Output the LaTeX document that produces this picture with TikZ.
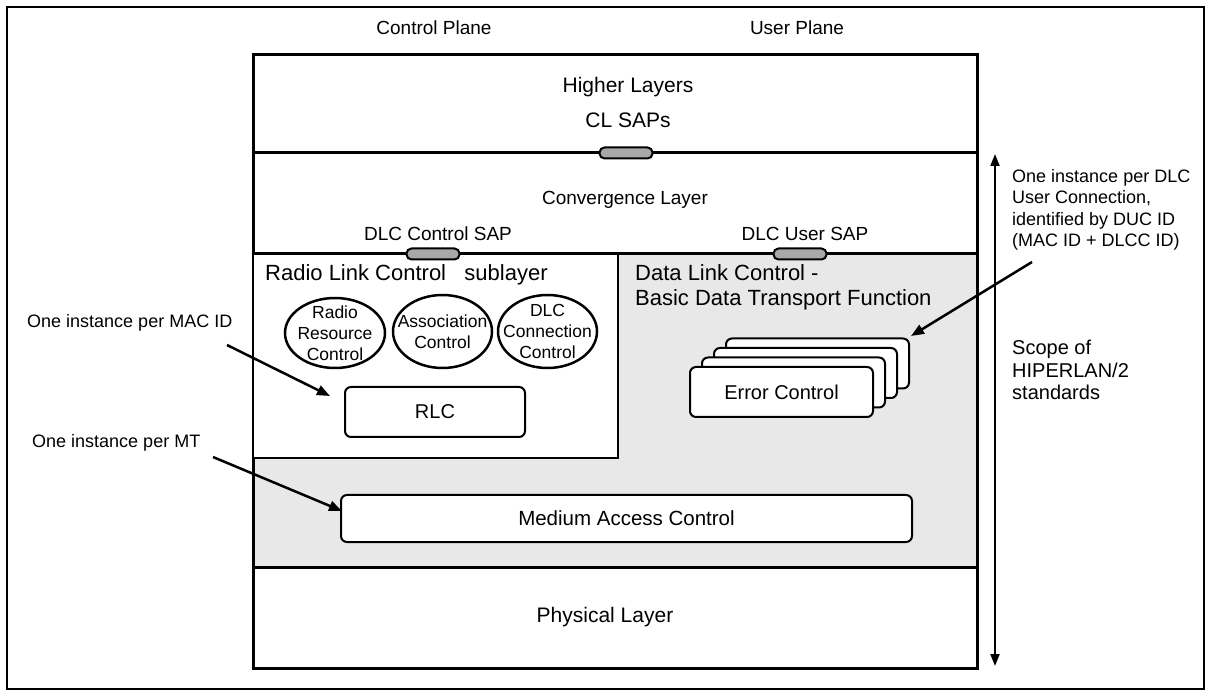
\documentclass[tikz,border=0pt]{standalone}
\usepackage{fontspec}
\setmainfont{Liberation Sans}
\usetikzlibrary{arrows.meta,shapes.geometric}
\definecolor{dlcgray}{HTML}{E8E8E8}
\definecolor{sapgray}{HTML}{A8A8A8}
\begin{document}
\begin{tikzpicture}[x=1pt,y=-1pt,
  layer/.style={draw,line width=3pt,minimum width=724pt,inner sep=0pt},
  rbox/.style={draw,fill=white,line width=2pt,rounded corners=6pt,inner sep=0pt},
  ell/.style={draw,ellipse,line width=2.5pt,inner sep=0pt},
  sap/.style={draw,fill=sapgray,line width=2pt,rounded corners=5pt,minimum width=53pt,minimum height=11pt,inner sep=0pt},
  arr/.style={line width=2.5pt,-{Triangle[length=13pt,width=10pt]}},
  scope/.style={line width=2pt,{Triangle[length=12pt,width=9pt]}-{Triangle[length=12pt,width=9pt]}},
  t19/.style={inner sep=0pt,font=\fontsize{19pt}{22pt}\selectfont},
  t21/.style={inner sep=0pt,font=\fontsize{21pt}{24pt}\selectfont},
  t18/.style={inner sep=0pt,font=\fontsize{18pt}{21.5pt}\selectfont,align=left},
  etext/.style={inner sep=0pt,font=\fontsize{17.5pt}{21pt}\selectfont,align=center},
  title/.style={inner sep=0pt,font=\fontsize{22pt}{25pt}\selectfont,align=left}]
\useasboundingbox (0,0) rectangle (1211,692);
% outer frame
\node[draw,line width=2pt,minimum width=1197pt,minimum height=682pt,inner sep=0pt] (frame) at (605.5,348) {};
% plane labels
\node[t19] (cp) at (434,28) {Control Plane};
\node[t19] (up) at (797,28) {User Plane};
% layers
\node[layer,fill=dlcgray,minimum height=313pt] (dlc) at (615,410.5) {};
\node[draw,fill=white,line width=2.5pt,minimum width=365pt,minimum height=204pt,inner sep=0pt] (rlcsub) at (435.5,356) {};
\node[layer,minimum height=98pt] (hl) at (615,104) {};
\node[layer,minimum height=101pt] (cl) at (615,203.5) {};
\node[layer,minimum height=101pt] (phy) at (615,617.5) {};
% texts in layers
\node[t21] (hlt) at (628,87) {Higher Layers};
\node[t21] (clsaps) at (628,120) {CL SAPs};
\node[t19] (clt) at (625,200) {Convergence Layer};
\node[t19] (dcsapt) at (438,234) {DLC Control SAP};
\node[t19] (dusapt) at (805,234) {DLC User SAP};
\node[t21] (phyt) at (605,617) {Physical Layer};
% SAPs
\node[sap] (clsap) at (626,153) {};
\node[sap] (dcsap) at (433,254) {};
\node[sap] (dusap) at (800,254) {};
% sublayer titles
\node[title,anchor=west] (rlctitle) at (265,275) {Radio Link Control\ \ \ sublayer};
\node[title,anchor=north west] (dlctitle) at (635,264) {Data Link Control -\\Basic Data Transport Function};
% ellipses
\node[ell,minimum width=100pt,minimum height=70pt] (rrc) at (335,333) {};
\node[ell,minimum width=99pt,minimum height=73pt] (ac) at (442.5,331.5) {};
\node[ell,minimum width=99pt,minimum height=73pt] (dcc) at (547.5,331.5) {};
\node[etext] (rrct) at (rrc) {Radio\\Resource\\Control};
\node[etext] (act) at (ac) {Association\\Control};
\node[etext] (dcct) at (dcc) {DLC\\Connection\\Control};
% RLC and MAC
\node[rbox,minimum width=180pt,minimum height=50pt,font=\fontsize{20pt}{24pt}\selectfont] (rlc) at (435,412) {RLC};
\node[rbox,minimum width=571pt,minimum height=47pt,font=\fontsize{20.5pt}{24pt}\selectfont] (mac) at (626.5,518.5) {Medium Access Control};
% Error control stack
\node[rbox,minimum width=183pt,minimum height=50pt] (ec4) at (817.5,363.5) {};
\node[rbox,minimum width=183pt,minimum height=50pt] (ec3) at (805.5,373) {};
\node[rbox,minimum width=183pt,minimum height=50pt] (ec2) at (793.5,382.5) {};
\node[rbox,minimum width=183pt,minimum height=50pt,font=\fontsize{20pt}{24pt}\selectfont] (ec1) at (781.5,392) {Error Control};
% annotations
\node[t18,anchor=west] (macid) at (27,323) {One instance per MAC ID};
\node[t18,anchor=west] (mt) at (32,443) {One instance per MT};
\node[t18,anchor=north west] (duc) at (1012,169) {One instance per DLC\\User Connection,\\identified by DUC ID\\(MAC ID + DLCC ID)};
\node[inner sep=0pt,font=\fontsize{20pt}{22.5pt}\selectfont,align=left,anchor=north west] (scopet) at (1012,340) {Scope of\\HIPERLAN/2\\standards};
% arrows
\coordinate (a1s) at (227,345);
\coordinate (a1e) at (330,396);
\coordinate (a2s) at (213,457);
\coordinate (a2e) at (342,511);
\coordinate (a3s) at (1032,262);
\coordinate (a3e) at (911,336);
\coordinate (stop) at (995,154);
\coordinate (sbot) at (995,666);
\draw[arr] (a1s) -- (a1e);
\draw[arr] (a2s) -- (a2e);
\draw[arr] (a3s) -- (a3e);
\draw[scope] (stop) -- (sbot);
\end{tikzpicture}
\end{document}
